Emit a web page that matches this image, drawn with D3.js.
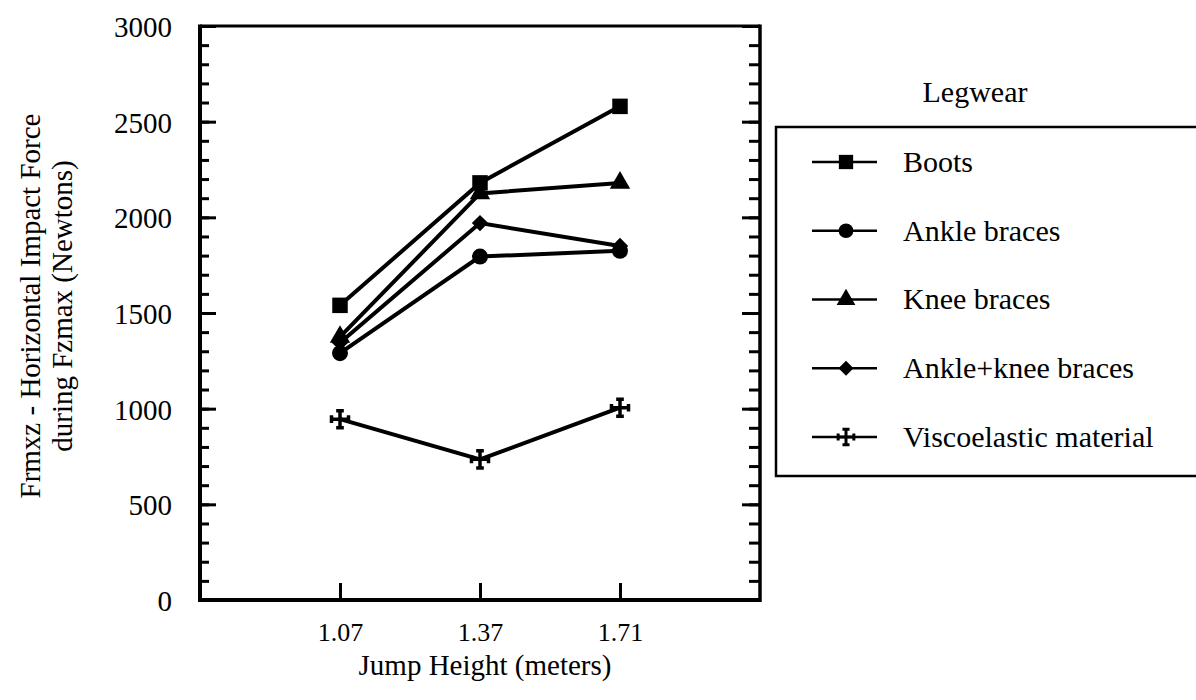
<!DOCTYPE html>
<html>
<head>
<meta charset="utf-8">
<script src="https://cdn.jsdelivr.net/npm/d3@7"></script>
<style>
  body { margin: 0; background: #fff; }
  text { font-family: "Liberation Serif", "Times New Roman", "DejaVu Serif", serif; fill: #000; }
</style>
</head>
<body>
<script>
// data
const heights = ["1.07", "1.37", "1.71"];
const seriesNames = ["Boots", "Ankle braces", "Knee braces", "Ankle+knee braces", "Viscoelastic material"];
const boots = [1540, 2180, 2580];
const ankleBraces = [1290, 1795, 1825];
const kneeBraces = [1375, 2125, 2180];
const ankleKneeBraces = [1345, 1970, 1850];
const viscoelastic = [945, 735, 1005];
const yTicks = [0, 500, 1000, 1500, 2000, 2500, 3000];

const seriesValues = [boots, ankleBraces, kneeBraces, ankleKneeBraces, viscoelastic];

const serif = "Liberation Serif, Times New Roman, DejaVu Serif, serif";

// margin
const margin = {top: 26, right: 436, bottom: 100, left: 200},
    width = 1196 - margin.left - margin.right,
    height = 700 - margin.top - margin.bottom;

// cross pattee marker
const symbolCross = {
    draw: function (ctx, size) {
        const r = Math.sqrt(size) / 2, b = r * 0.45;
        ctx.moveTo(0, -r); ctx.lineTo(0, r);
        ctx.moveTo(-r, 0); ctx.lineTo(r, 0);
        ctx.moveTo(-b, -r); ctx.lineTo(b, -r);
        ctx.moveTo(-b, r); ctx.lineTo(b, r);
        ctx.moveTo(-r, -b); ctx.lineTo(-r, b);
        ctx.moveTo(r, -b); ctx.lineTo(r, b);
    }
};
const symbols = [d3.symbolSquare, d3.symbolCircle, d3.symbolTriangle, d3.symbolDiamond2, symbolCross];
const symbolSizes = [240, 200, 180, 170, 290];

const svg = d3.select("body").append("svg")
    .attr("width", 1196)
    .attr("height", 700);

const g = svg.append("g")
    .attr("transform", "translate(" + margin.left + "," + margin.top + ")");

const x = d3.scalePoint()
    .domain(heights)
    .range([0, width])
    .padding(1);

const y = d3.scaleLinear()
    .domain([0, 3000])
    .range([height, 0]);

// left axis, ticks pointing inward
g.append("g")
    .call(d3.axisLeft(y).tickValues(d3.range(0, 3001, 100)).tickSize(-9).tickFormat(""))
    .call(a => a.select(".domain").remove())
    .selectAll("line").attr("stroke", "#000").attr("stroke-width", 3);

g.append("g")
    .call(d3.axisLeft(y).tickValues(yTicks).tickSize(-16).tickPadding(28).tickFormat(d3.format("d")))
    .attr("font-family", serif)
    .call(a => a.select(".domain").remove())
    .call(a => a.selectAll("line").attr("stroke", "#000").attr("stroke-width", 3))
    .call(a => a.selectAll("text").style("font-size", "29px").attr("dy", "0.36em"));

// right axis
g.append("g")
    .attr("transform", "translate(" + width + ",0)")
    .call(d3.axisRight(y).tickValues(d3.range(0, 3001, 100)).tickSize(-11).tickFormat(""))
    .call(a => a.select(".domain").remove())
    .selectAll("line").attr("stroke", "#000").attr("stroke-width", 3);

g.append("g")
    .attr("transform", "translate(" + width + ",0)")
    .call(d3.axisRight(y).tickValues(yTicks).tickSize(-18).tickFormat(""))
    .call(a => a.select(".domain").remove())
    .selectAll("line").attr("stroke", "#000").attr("stroke-width", 3);

// bottom axis
g.append("g")
    .attr("transform", "translate(0," + height + ")")
    .call(d3.axisBottom(x).tickSize(-17).tickPadding(23))
    .attr("font-family", serif)
    .call(a => a.select(".domain").remove())
    .call(a => a.selectAll("line").attr("stroke", "#000").attr("stroke-width", 3))
    .call(a => a.selectAll("text").style("font-size", "26px"));

// frame
g.append("line").attr("x1", 0).attr("x2", width).attr("y1", 0).attr("y2", 0)
    .attr("stroke", "#000").attr("stroke-width", 3);
g.append("line").attr("x1", 0).attr("x2", width).attr("y1", height).attr("y2", height)
    .attr("stroke", "#000").attr("stroke-width", 4);
g.append("line").attr("x1", 0).attr("x2", 0).attr("y1", -1.5).attr("y2", height + 2)
    .attr("stroke", "#000").attr("stroke-width", 4);
g.append("line").attr("x1", width).attr("x2", width).attr("y1", -1.5).attr("y2", height + 2)
    .attr("stroke", "#000").attr("stroke-width", 3.5);

// series lines and markers
const line = d3.line()
    .x(function (d, i) { return x(heights[i]); })
    .y(function (d) { return y(d); });

seriesValues.forEach(function (vals, s) {
    g.append("path")
        .attr("d", line(vals))
        .attr("fill", "none")
        .attr("stroke", "#000")
        .attr("stroke-width", 4);

    g.selectAll(".m" + s)
        .data(vals)
        .enter().append("path")
        .attr("class", "m" + s)
        .attr("transform", function (d, i) { return "translate(" + x(heights[i]) + "," + y(d) + ")"; })
        .attr("d", d3.symbol().type(symbols[s]).size(symbolSizes[s]))
        .attr("fill", s === 4 ? "none" : "#000")
        .attr("stroke", "#000")
        .attr("stroke-width", s === 4 ? 3.5 : 0);
});

// axis titles
svg.append("text")
    .attr("x", 485)
    .attr("y", 675)
    .attr("text-anchor", "middle")
    .style("font-size", "29px")
    .text("Jump Height (meters)");

svg.append("text")
    .attr("transform", "translate(40,306) rotate(-90)")
    .attr("text-anchor", "middle")
    .style("font-size", "29px")
    .text("Frmxz - Horizontal Impact Force");

svg.append("text")
    .attr("transform", "translate(72,306) rotate(-90)")
    .attr("text-anchor", "middle")
    .style("font-size", "29px")
    .text("during Fzmax (Newtons)");

// legend
svg.append("text")
    .attr("x", 975)
    .attr("y", 102)
    .attr("text-anchor", "middle")
    .style("font-size", "30px")
    .text("Legwear");

svg.append("rect")
    .attr("x", 776)
    .attr("y", 127)
    .attr("width", 440)
    .attr("height", 349)
    .attr("fill", "none")
    .attr("stroke", "#000")
    .attr("stroke-width", 2.5);

const legendY = d3.scalePoint()
    .domain(seriesNames)
    .range([162, 437]);

const legend = svg.selectAll(".legend")
    .data(seriesNames)
    .enter().append("g")
    .attr("class", "legend")
    .attr("transform", function (d) { return "translate(0," + legendY(d) + ")"; });

legend.append("line")
    .attr("x1", 812)
    .attr("x2", 877)
    .attr("stroke", "#000")
    .attr("stroke-width", 2.5);

legend.append("path")
    .attr("transform", "translate(846,0)")
    .attr("d", function (d, i) { return d3.symbol().type(symbols[i]).size(symbolSizes[i] * 0.85)(); })
    .attr("fill", function (d, i) { return i === 4 ? "none" : "#000"; })
    .attr("stroke", "#000")
    .attr("stroke-width", function (d, i) { return i === 4 ? 3 : 0; });

legend.append("text")
    .attr("x", 903)
    .attr("dy", "0.33em")
    .style("font-size", "30px")
    .text(function (d) { return d; });
</script>
</body>
</html>
